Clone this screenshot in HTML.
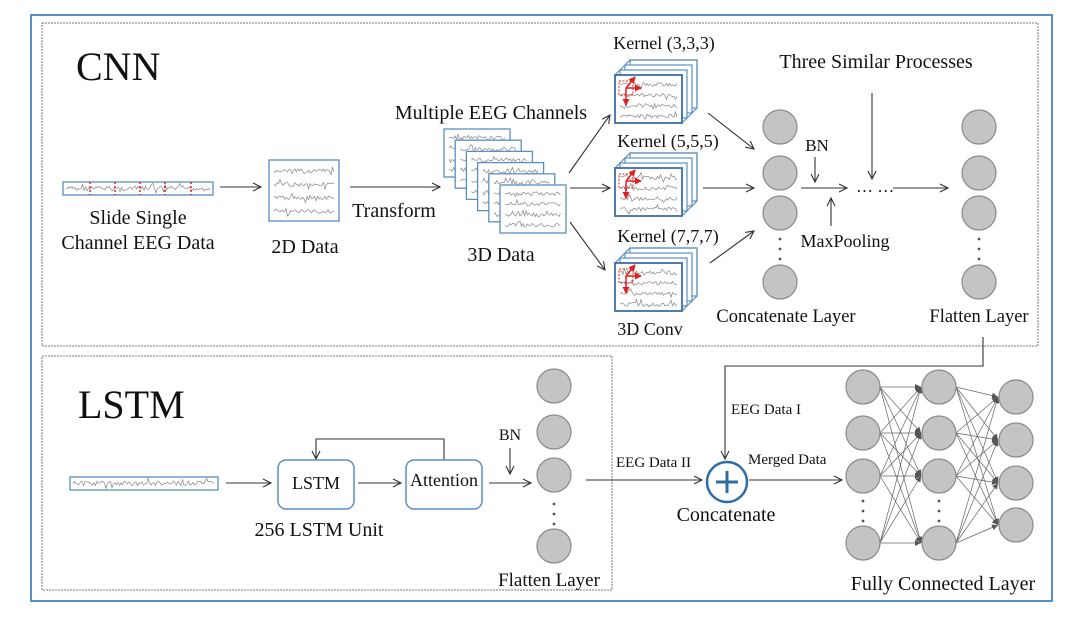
<!DOCTYPE html>
<html><head><meta charset="utf-8"><style>
html,body{margin:0;padding:0;background:#fff;}
svg{display:block;font-family:"Liberation Serif",serif;}
</style></head><body>
<svg id="s" width="1080" height="622" viewBox="0 0 1080 622" xmlns="http://www.w3.org/2000/svg">
<defs>
<marker id="a" markerWidth="12" markerHeight="12" refX="9" refY="5" orient="auto" markerUnits="userSpaceOnUse"><path d="M1,1 L9,5 L1,9" fill="none" stroke="#333" stroke-width="1.1"/></marker>
<marker id="f" markerWidth="8" markerHeight="8" refX="6" refY="3" orient="auto" markerUnits="userSpaceOnUse"><path d="M0,0 L6,3 L0,6 z" fill="#555"/></marker>
<marker id="r" markerWidth="8" markerHeight="8" refX="6" refY="3.5" orient="auto" markerUnits="userSpaceOnUse"><path d="M0,0 L7,3.5 L0,7 z" fill="#e02020"/></marker>
</defs>
<rect x="31" y="15" width="1021" height="586" fill="none" stroke="#5b8fc0" stroke-width="2"/>
<rect x="42" y="23" width="996" height="323" fill="none" stroke="#777" stroke-width="1" stroke-dasharray="2,1"/>
<rect x="42" y="356" width="570" height="234" fill="none" stroke="#777" stroke-width="1" stroke-dasharray="2,1"/>

<g fill="#111">
<text x="76" y="80" font-size="40">CNN</text>
<text x="78" y="418" font-size="40">LSTM</text>
<g font-size="20" text-anchor="middle">
<text x="138" y="224">Slide Single</text>
<text x="138" y="249">Channel EEG Data</text>
<text x="305" y="253">2D Data</text>
<text x="394" y="217">Transform</text>
<text x="491" y="119">Multiple EEG Channels</text>
<text x="501" y="261">3D Data</text>
<text x="664" y="49" font-size="18">Kernel (3,3,3)</text>
<text x="668" y="147" font-size="18">Kernel (5,5,5)</text>
<text x="668" y="242" font-size="18">Kernel (7,7,7)</text>
<text x="650" y="335" font-size="18">3D Conv</text>
<text x="876" y="68">Three Similar Processes</text>
<text x="817" y="151" font-size="17">BN</text>
<text x="845" y="247" font-size="18">MaxPooling</text>
<text x="786" y="322" font-size="18.5">Concatenate Layer</text>
<text x="979" y="322" font-size="18.5">Flatten Layer</text>
<text x="319" y="536">256 LSTM Unit</text>
<text x="510" y="440" font-size="16">BN</text>
<text x="549" y="586" font-size="19">Flatten Layer</text>
<text x="726" y="521">Concatenate</text>
<text x="943" y="590">Fully Connected Layer</text>
</g>
<g font-size="15">
<text x="731" y="414">EEG Data I</text>
<text x="616" y="467">EEG Data II</text>
<text x="748" y="464">Merged Data</text>
</g>
<text x="856" y="192" font-size="17">… …</text>
</g>

<g stroke="#333" stroke-width="1.1" fill="none" marker-end="url(#a)">
<line x1="220" y1="187" x2="261" y2="187"/>
<line x1="350" y1="187" x2="440" y2="187"/>
<line x1="569" y1="173" x2="610" y2="115"/>
<line x1="570" y1="188" x2="610" y2="188"/>
<line x1="570" y1="222" x2="605" y2="270"/>
<line x1="708" y1="113" x2="754" y2="149"/>
<line x1="703" y1="188" x2="754" y2="188"/>
<line x1="710" y1="263" x2="754" y2="231"/>
<line x1="801" y1="188" x2="847" y2="188"/>
<line x1="815" y1="157" x2="815" y2="182"/>
<line x1="831" y1="226" x2="831" y2="198"/>
<line x1="893" y1="188" x2="948" y2="188"/>
<line x1="872" y1="93" x2="872" y2="179"/>
<polyline points="983,337 983,366 725,366 725,459"/>
<line x1="586" y1="480" x2="702" y2="480"/>
<line x1="749" y1="480" x2="842" y2="480"/>
<line x1="226" y1="483" x2="271" y2="483"/>
<line x1="358" y1="483" x2="401" y2="483"/>
<polyline points="444,460 444,439 316,439 316,459"/>
<line x1="489" y1="483" x2="531" y2="483"/>
<line x1="510" y1="448" x2="510" y2="474"/>
</g>

<rect x="278" y="460" width="76" height="49" rx="8" fill="#fff" stroke="#5b8fc0" stroke-width="1.5"/>
<rect x="406" y="460" width="76" height="49" rx="8" fill="#fff" stroke="#5b8fc0" stroke-width="1.5"/>
<text x="316" y="489" font-size="18" text-anchor="middle" fill="#111">LSTM</text>
<text x="444" y="486" font-size="18" text-anchor="middle" fill="#111">Attention</text>

<circle cx="727" cy="482" r="20" fill="#fff" stroke="#2e6da4" stroke-width="2.5"/>
<path d="M727,471 V493 M716,482 H738" stroke="#2e6da4" stroke-width="3"/>

<g id="dyn"></g>
</svg>
<script>
var g=document.getElementById('dyn'),NS='http://www.w3.org/2000/svg';
function el(t,a){var e=document.createElementNS(NS,t);for(var k in a)e.setAttribute(k,a[k]);g.appendChild(e);return e;}
var seed=7;function rnd(){seed=(seed*9301+49297)%233280;return seed/233280;}
function sq(x1,x2,y,amp){var d='M'+x1+','+y;for(var x=x1+1.5;x<=x2;x+=1.5){d+=' L'+x.toFixed(1)+','+(y+(rnd()-0.5)*amp*(rnd()<0.15?2.5:1)).toFixed(1);}el('path',{d:d,fill:'none',stroke:'#888','stroke-width':0.7});}
function sheet(x,y,w,h){el('rect',{x:x,y:y,width:w,height:h,fill:'#fff',stroke:'#5b8fc0','stroke-width':1.3});for(var i=0;i<4;i++)sq(x+5,x+w-5,y+h*(0.18+i*0.22),4);}
el('rect',{x:63,y:182,width:150,height:13,fill:'#fff',stroke:'#5b8fc0','stroke-width':1.3});sq(66,210,188.5,5);
[90,115,140,165,191].forEach(function(x){el('line',{x1:x,y1:182,x2:x,y2:195,stroke:'#e02020','stroke-width':1.5,'stroke-dasharray':'2,2'});});
el('rect',{x:70,y:477,width:148,height:13,fill:'#fff',stroke:'#5b8fc0','stroke-width':1.3});sq(73,215,483.5,5);
sheet(269,160,70,61);
for(var i=0;i<6;i++)sheet(444+i*11.2,129+i*11.2,66,48);
function kern(y){var x=615,w=67,h=48,d=15;
 for(var k=3;k>=1;k--){var o=k*d/3;el('rect',{x:x+o,y:y-o,width:w,height:h,fill:'#fff',stroke:'#5b8fc0','stroke-width':1.2});}
 el('path',{d:'M'+x+','+y+' L'+(x+d)+','+(y-d)+' L'+(x+w+d)+','+(y-d)+' L'+(x+w+d)+','+(y+h-d)+' L'+(x+w)+','+(y+h),fill:'none',stroke:'#5b8fc0','stroke-width':1.2});
 el('rect',{x:x,y:y,width:w,height:h,fill:'#fff',stroke:'#3c6fa8','stroke-width':1.8});
 for(var i=0;i<4;i++)sq(x+5,x+w-5,y+h*(0.2+i*0.22),4);
 el('rect',{x:x+4,y:y+6,width:14,height:14,fill:'none',stroke:'#e02020','stroke-width':1,'stroke-dasharray':'2,1.5'});
 [[x+11,y+13,x+26,y+13],[x+11,y+13,x+11,y+30],[x+11,y+13,x+20,y+2]].forEach(function(p){el('line',{x1:p[0],y1:p[1],x2:p[2],y2:p[3],stroke:'#e02020','stroke-width':1.5,'marker-end':'url(#r)'});});}
kern(75);kern(168);kern(263);
function circ(x,y){el('circle',{cx:x,cy:y,r:17,fill:'#c4c4c4',stroke:'#8a8a8a','stroke-width':1.2});}
function dots(x,y1){for(var i=0;i<3;i++)el('circle',{cx:x,cy:y1+i*10,r:1.4,fill:'#555'});}
[780,979].forEach(function(x){[127,173,213,282].forEach(function(y){circ(x,y);});dots(x,239);});
[386,432,475,546].forEach(function(y){circ(554,y);});dots(554,504);
var c1=[387,433,476,543],c2=c1,c3=[397,440,483,525];
c1.forEach(function(a){c2.forEach(function(b){el('line',{x1:880,y1:a,x2:921,y2:b,stroke:'#666','stroke-width':0.7,'marker-end':'url(#f)'});});});
c2.forEach(function(a){c3.forEach(function(b){el('line',{x1:956,y1:a,x2:998,y2:b,stroke:'#666','stroke-width':0.7,'marker-end':'url(#f)'});});});
c1.forEach(function(y){circ(863,y);});c2.forEach(function(y){circ(939,y);});c3.forEach(function(y){circ(1016,y);});
dots(863,501);dots(939,501);
</script>
</body></html>
